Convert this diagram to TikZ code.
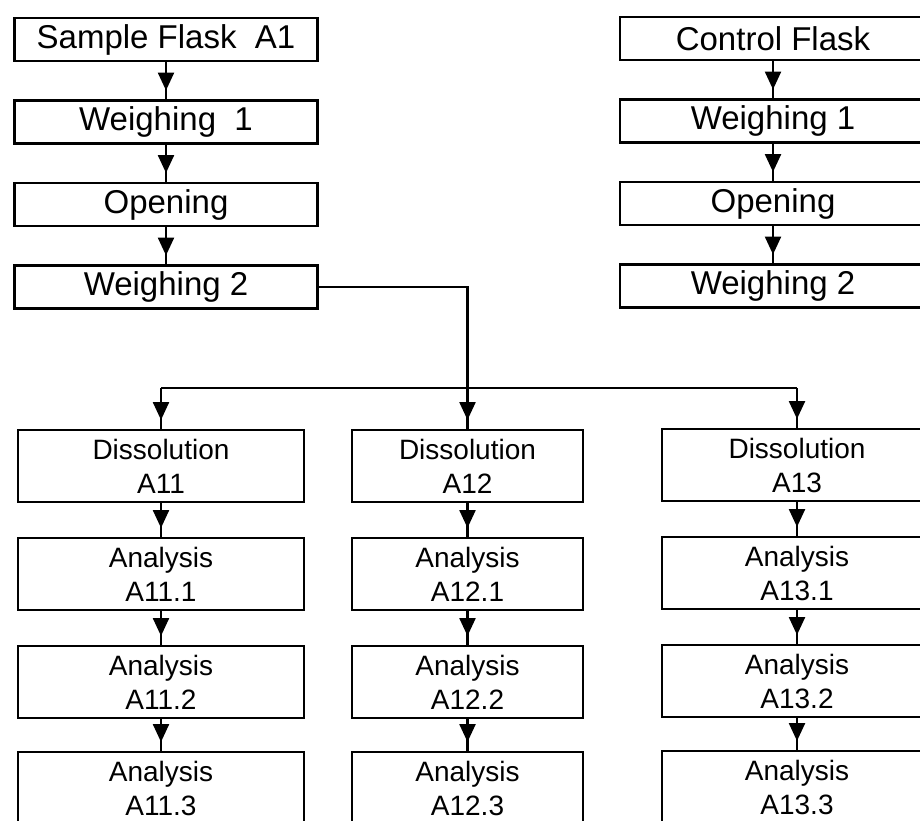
\documentclass[tikz,border=0pt]{standalone}
\usepackage{fontspec}
\setmainfont{Liberation Sans}
\usetikzlibrary{arrows.meta,positioning,decorations.markings}

\begin{document}
\begin{tikzpicture}[
  x=1pt, y=-1pt,
  box/.style={rectangle, draw=black, line width=2.4pt, fill=white, align=center,
    inner sep=0pt, outer sep=0pt, minimum height=43pt, font=\fontsize{33}{38}\selectfont},
  flaskL/.style={box, minimum width=303pt},
  flaskR/.style={box, minimum width=306pt},
  sub/.style={box, minimum height=72pt, font=\fontsize{28}{34}\selectfont},
  subL/.style={sub, minimum width=286pt},
  subM/.style={sub, minimum width=231pt},
  subR/.style={sub, minimum width=270pt},
  link/.style={line width=2.4pt, postaction={decorate},
    decoration={markings, mark=at position -10pt with {\arrow{Triangle[width=16pt,length=18pt]}}}},
  node distance=39.5pt
]
\useasboundingbox[fill=white] (0,0) rectangle (920,820);

% sample flask branch
\node[flaskL] (sf) at (166,39.5) {Sample Flask\ \ A1};
\node[flaskL, below=of sf] (sw1) {Weighing\ \ 1};
\node[flaskL, below=of sw1] (sop) {Opening};
\node[flaskL, below=of sop] (sw2) {Weighing 2};

% control flask branch
\node[flaskR] (cf) at (773,38.5) {Control Flask};
\node[flaskR, below=of cf] (cw1) {Weighing 1};
\node[flaskR, below=of cw1] (cop) {Opening};
\node[flaskR, below=of cop] (cw2) {Weighing 2};

% dissolutions and analyses
\node[subL] (d11) at (161,466) {Dissolution\\A11};
\node[subL, below=36pt of d11] (a111) {Analysis\\A11.1};
\node[subL, below=36pt of a111] (a112) {Analysis\\A11.2};
\node[subL, below=34pt of a112] (a113) {Analysis\\A11.3};

\node[subM] (d12) at (467.5,466) {Dissolution\\A12};
\node[subM, below=36pt of d12] (a121) {Analysis\\A12.1};
\node[subM, below=36pt of a121] (a122) {Analysis\\A12.2};
\node[subM, below=34pt of a122] (a123) {Analysis\\A12.3};

\node[subR] (d13) at (797,465) {Dissolution\\A13};
\node[subR, below=36pt of d13] (a131) {Analysis\\A13.1};
\node[subR, below=36pt of a131] (a132) {Analysis\\A13.2};
\node[subR, below=34pt of a132] (a133) {Analysis\\A13.3};

\draw[link] (sf) -- (sw1);
\draw[link] (sw1) -- (sop);
\draw[link] (sop) -- (sw2);
\draw[link] (cf) -- (cw1);
\draw[link] (cw1) -- (cop);
\draw[link] (cop) -- (cw2);

% split to the three dissolutions
\coordinate (bus) at (0,388);
\draw[link] (sw2.east) -| (d12.north);
\draw[line width=2.4pt] (d11.north |- bus) -- (d13.north |- bus);
\draw[link] (d11.north |- bus) -- (d11.north);
\draw[link] (d13.north |- bus) -- (d13.north);

\draw[link] (d11) -- (a111);
\draw[link] (a111) -- (a112);
\draw[link] (a112) -- (a113);
\draw[link] (d12) -- (a121);
\draw[link] (a121) -- (a122);
\draw[link] (a122) -- (a123);
\draw[link] (d13) -- (a131);
\draw[link] (a131) -- (a132);
\draw[link] (a132) -- (a133);
\end{tikzpicture}
\end{document}
